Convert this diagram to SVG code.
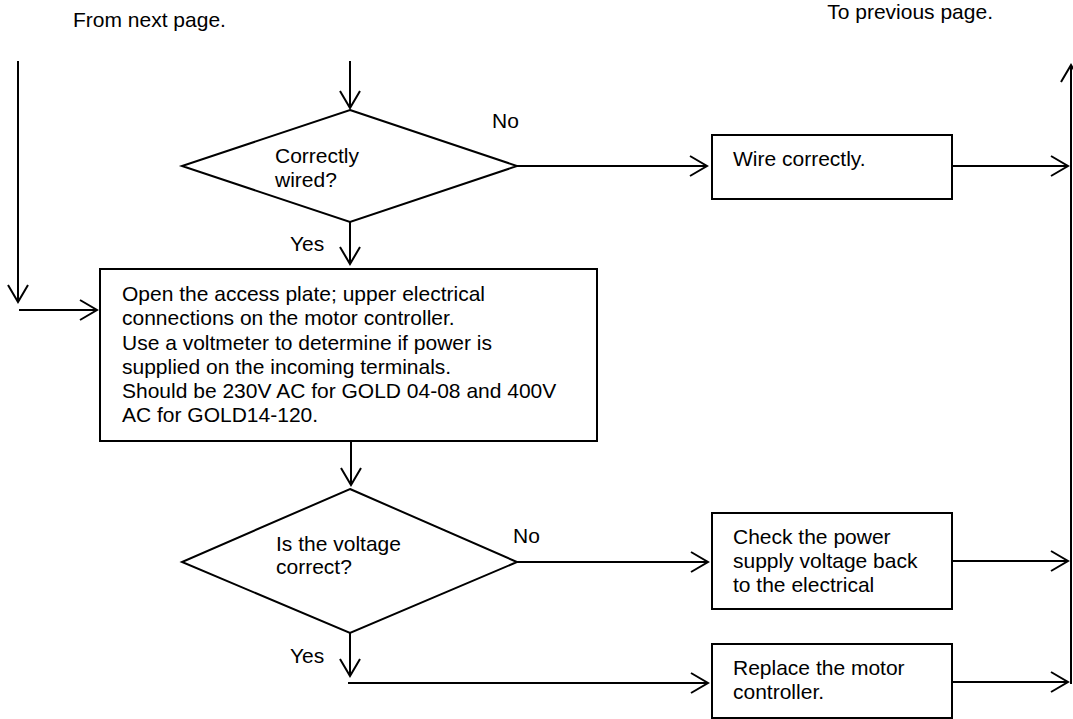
<svg xmlns="http://www.w3.org/2000/svg" width="1073" height="719" viewBox="0 0 1073 719">
<style>
.t{font-family:"Liberation Sans",Arial,sans-serif;font-size:21px;fill:#000}
.shape{fill:#fff;stroke:#000;stroke-width:2}
.c{fill:none;stroke:#000;stroke-width:2}
</style>
<defs>
<marker id="a" viewBox="0 0 20 24" refX="18" refY="12" markerWidth="20" markerHeight="24" markerUnits="userSpaceOnUse" orient="auto">
<path d="M1,2 L18,12 L1,22" fill="none" stroke="#000" stroke-width="2"/>
</marker>
</defs>
<rect width="1073" height="719" fill="#fff"/>
<g id="labels">
<text class="t" x="73" y="27">From next page.</text>
<text class="t" x="993" y="19" text-anchor="end">To previous page.</text>
<text class="t" x="492" y="128">No</text>
<text class="t" x="290" y="251">Yes</text>
<text class="t" x="513" y="543">No</text>
<text class="t" x="290" y="663">Yes</text>
</g>
<g id="connectors">
<path class="c" d="M18,61 V302" marker-end="url(#a)"/>
<path class="c" d="M19,310 H97" marker-end="url(#a)"/>
<path class="c" d="M350,61 V108" marker-end="url(#a)"/>
<path class="c" d="M517,166 H707" marker-end="url(#a)"/>
<path class="c" d="M952,166 H1068" marker-end="url(#a)"/>
<path class="c" d="M350,222 V264" marker-end="url(#a)"/>
<path class="c" d="M351,441 V485" marker-end="url(#a)"/>
<path class="c" d="M517,562 H708" marker-end="url(#a)"/>
<path class="c" d="M952,561 H1068" marker-end="url(#a)"/>
<path class="c" d="M350,633 V676" marker-end="url(#a)"/>
<path class="c" d="M348,683 H708" marker-end="url(#a)"/>
<path class="c" d="M952,682 H1068" marker-end="url(#a)"/>
<path class="c" d="M1071,684 V65" marker-end="url(#a)"/>
</g>
<g id="n-correctly-wired">
<polygon class="shape" points="350,110 517,166 350,222 182,166"/>
<text class="t" x="275" y="163">Correctly</text>
<text class="t" x="275" y="187">wired?</text>
</g>
<g id="n-wire-correctly">
<rect class="shape" x="712" y="135" width="240" height="64"/>
<text class="t" x="733" y="166">Wire correctly.</text>
</g>
<g id="n-open-plate">
<rect class="shape" x="100" y="269" width="497" height="172"/>
<text class="t" x="122" y="301">Open the access plate; upper electrical</text>
<text class="t" x="122" y="325">connections on the motor controller.</text>
<text class="t" x="122" y="349.5">Use a voltmeter to determine if power is</text>
<text class="t" x="122" y="374">supplied on the incoming terminals.</text>
<text class="t" x="122" y="398">Should be 230V AC for GOLD 04-08 and 400V</text>
<text class="t" x="122" y="422">AC for GOLD14-120.</text>
</g>
<g id="n-voltage-correct">
<polygon class="shape" points="350,489 517,562 350,633 182,562"/>
<text class="t" x="276" y="551">Is the voltage</text>
<text class="t" x="276" y="574">correct?</text>
</g>
<g id="n-check-supply">
<rect class="shape" x="712" y="513" width="240" height="96"/>
<text class="t" x="733" y="544">Check the power</text>
<text class="t" x="733" y="568">supply voltage back</text>
<text class="t" x="733" y="592">to the electrical</text>
</g>
<g id="n-replace">
<rect class="shape" x="712" y="644" width="240" height="74"/>
<text class="t" x="733" y="675">Replace the motor</text>
<text class="t" x="733" y="699">controller.</text>
</g>
</svg>
